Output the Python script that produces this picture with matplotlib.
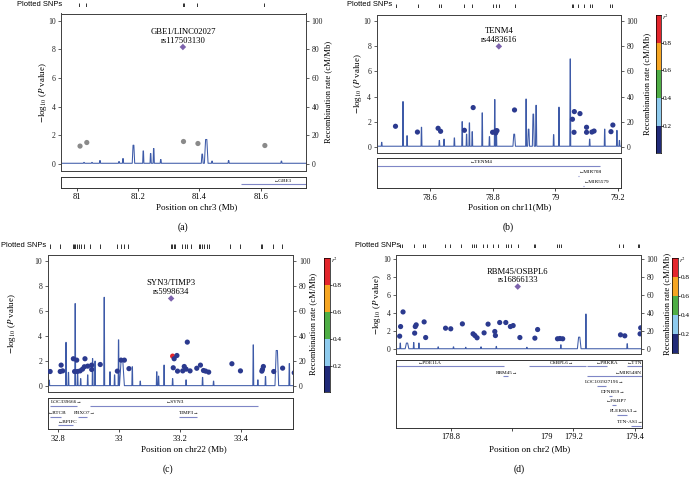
import matplotlib
matplotlib.use('Agg')
import matplotlib.pyplot as plt

plt.rcParams['font.family'] = ['Liberation Serif', 'DejaVu Serif']
plt.rcParams['mathtext.fontset'] = 'stix'

W, H = 689, 483
fig = plt.figure(figsize=(6.89, 4.83), dpi=100)

def box(x0, y0, x1, y1):
    return [x0 / W, 1 - y1 / H, (x1 - x0) / W, (y1 - y0) / H]

NAVY = '#2b3a8f'
GRAY = '#8a8a8a'
RED = '#e4262c'
PURPLE = '#7d63ad'
RECCOL = '#3d5aa8'
GENECOL = '#7f86c6'

# ---------------- data: panel (a) chr3 ----------------
snp_pos_a = [81.011, 81.033, 81.348, 81.395, 81.613]
snp_logp_a = [1.24, 1.49, 1.56, 1.42, 1.28]
snp_col_a = ['gray'] * 5
lead_a = (81.346, 8.16)
lead_txt_a = ('GBE1/LINC02027', 'rs117503130')
plotted_a = [81.008, 81.029, 81.346, 81.348, 81.392, 81.61]
rec_pos_a = [81.024, 81.05, 81.076, 81.138, 81.151, 81.185, 81.217, 81.241, 81.251,
             81.274, 81.409, 81.422, 81.441, 81.495, 81.667]
rec_rate_a = [1, 1, 2.3, 1.6, 3.7, 13, 9, 7.2, 10.7, 3, 6.8, 17, 1.9, 2.3, 1.9]
rec_w_a = [0.002, 0.002, 0.002, 0.002, 0.002, 0.004, 0.002, 0.002, 0.002,
           0.002, 0.003, 0.006, 0.002, 0.002, 0.002]
genes_a = [('GBE1', 81.534, 81.80, '-')]
gene_lab_a = [81.642]
gene_row_a = [0]

# ---------------- data: panel (b) chr11 ----------------
snp_pos_b = [78.49, 78.56, 78.626, 78.634, 78.71, 78.738, 78.80, 78.81, 78.814, 78.81,
             78.87, 79.055, 79.061, 79.079, 79.06, 79.10, 79.10, 79.117, 79.124, 79.178, 79.184]
snp_logp_b = [1.63, 1.17, 1.47, 1.23, 1.31, 3.12, 1.15, 1.25, 1.28, 1.1,
              2.93, 2.19, 2.8, 2.64, 1.15, 1.55, 1.15, 1.17, 1.25, 1.2, 1.73]
snp_col_b = ['navy'] * len(snp_pos_b)
lead_b = (78.82, 8.0)
lead_txt_b = ('TENM4', 'rs4483616')
plotted_b = [78.491, 78.563, 78.630, 78.636, 78.708, 78.735, 78.800, 78.810, 78.821,
             78.872, 79.053, 79.057, 79.074, 79.093, 79.112, 79.117, 79.175, 79.180]
rec_pos_b = [78.446, 78.514, 78.527, 78.573, 78.63, 78.645, 78.678, 78.703, 78.717, 78.726,
             78.735, 78.767, 78.79, 78.807, 78.812, 78.869, 78.907, 78.915, 78.93, 78.939,
             78.995, 79.012, 79.048, 79.11, 79.158, 79.197, 79.205]
rec_rate_b = [3.5, 36, 8.8, 15.5, 5, 6, 7, 20, 10, 19, 12, 27, 8, 37.6, 14, 10, 38, 14,
              26, 33, 9.6, 31.5, 70, 6, 14, 13, 5]
rec_w_b = [0.0015] * 15 + [0.004, 0.0015, 0.003, 0.003, 0.002] + [0.0015] * 7
genes_b = [('TENM4', 78.2, 79.143, '-'), ('MIR708', 79.074, 79.0745, '-'),
           ('MIR5579', 79.09, 79.0905, '-')]
gene_lab_b = [78.728, 79.074, 79.09]
gene_row_b = [0, 1, 2]

# ---------------- data: panel (c) chr22 ----------------
snp_pos_c = [32.775, 32.808, 32.811, 32.816, 32.851, 32.862, 32.855, 32.864, 32.873, 32.881,
             32.887, 32.889, 32.898, 32.911, 32.911, 32.939, 32.995, 33.007, 33.018, 33.033,
             33.176, 33.181, 33.19, 33.178, 33.192, 33.209, 33.214, 33.224, 33.22, 33.233,
             33.255, 33.267, 33.277, 33.284, 33.294, 33.37, 33.398, 33.468, 33.473, 33.47,
             33.507, 33.536, 33.574]
snp_logp_c = [1.17, 1.17, 1.68, 1.22, 2.19, 2.08, 1.17, 1.17, 1.22, 1.36,
              1.55, 2.19, 1.6, 1.68, 1.33, 1.73, 1.2, 2.08, 2.08, 1.4,
              2.4, 2.19, 2.45, 1.47, 1.2, 1.22, 1.57, 3.52, 1.36, 1.22,
              1.43, 1.68, 1.25, 1.2, 1.12, 1.79, 1.22, 1.2, 1.57, 1.33,
              1.17, 1.44, 1.07]
snp_col_c = ['navy'] * 20 + ['red'] + ['navy'] * 22
lead_c = (33.171, 7.01)
lead_txt_c = ('SYN3/TIMP3', 'rs5998634')
plotted_c = [32.773, 32.808, 32.849, 32.853, 32.858, 32.864, 32.871, 32.877, 32.886, 32.906,
             32.939, 32.993, 33.006, 33.017, 33.030, 33.171, 33.175, 33.180, 33.184, 33.208,
             33.215, 33.223, 33.236, 33.263, 33.267, 33.273, 33.280, 33.288, 33.295, 33.364,
             33.397, 33.464, 33.469, 33.504, 33.534, 33.570]
rec_pos_c = [32.772, 32.827, 32.835, 32.857, 32.865, 32.875, 32.898, 32.914, 32.922, 32.952,
             32.971, 32.986, 32.999, 33.01, 33.044, 33.07, 33.124, 33.13, 33.148, 33.176,
             33.22, 33.274, 33.31, 33.44, 33.455, 33.48, 33.517, 33.558]
rec_rate_c = [4.8, 35, 11, 66, 10, 6, 9, 22, 20, 71, 11.5, 9, 37, 21, 15.5, 4, 11.5, 8,
              16.8, 6, 5, 7, 4, 33, 5, 7.7, 28.5, 18]
rec_w_c = [0.0015] * 13 + [0.008] + [0.0015] * 12 + [0.006, 0.0015]
genes_c = [('LOC339666', 32.775, 32.862, '+'), ('SYN3', 32.906, 33.457, '-'),
           ('RTCB', 32.776, 32.809, '-'), ('FBXO7', 32.865, 32.895, '+'),
           ('TIMP3', 33.198, 33.255, '+'), ('BPIFC', 32.802, 32.851, '-')]
gene_lab_c = [32.776, 33.155, 32.769, 32.851, 33.198, 32.799]
gene_row_c = [0, 0, 1, 1, 1, 2]

# ---------------- data: panel (d) chr2 ----------------
snp_pos_d = [178.634, 178.637, 178.645, 178.683, 178.685, 178.688, 178.714, 178.719, 178.784,
             178.801, 178.839, 178.874, 178.88, 178.887, 178.91, 178.923, 178.945, 178.947,
             178.961, 178.981, 178.996, 179.005, 179.027, 179.076, 179.085, 179.15, 179.158,
             179.167, 179.356, 179.37, 179.42, 179.422]
snp_logp_d = [1.44, 2.51, 4.14, 1.78, 2.51, 2.7, 3.03, 1.29, 2.33, 2.26, 2.81, 1.7, 1.51,
              1.26, 1.81, 2.78, 1.96, 1.51, 2.96, 2.96, 2.51, 2.62, 1.29, 1.22, 2.18, 1.15,
              1.18, 1.15, 1.59, 1.48, 1.7, 2.37]
snp_col_d = ['navy'] * len(snp_pos_d)
lead_d = (179.02, 6.96)
lead_txt_d = ('RBM45/OSBPL6', 'rs16866133')
plotted_d = [178.634, 178.640, 178.681, 178.710, 178.716, 178.781, 178.799, 178.836, 178.871,
             178.876, 178.883, 178.907, 178.918, 178.940, 178.956, 178.980, 178.987, 178.997,
             179.021, 179.073, 179.078, 179.148, 179.154, 179.160, 179.352, 179.365, 179.414,
             179.416]
rec_pos_d = [178.636, 178.658, 178.68, 178.697, 178.76, 178.81, 178.85, 178.9, 178.95,
             179.05, 179.161, 179.221, 179.243, 179.378]
rec_rate_d = [6.7, 6.7, 7.3, 6.7, 2.5, 2.5, 2, 2.5, 3, 2, 4.8, 13.3, 39, 6]
rec_w_d = [0.0015, 0.006, 0.0015, 0.0015, 0.0015, 0.0015, 0.0015, 0.0015, 0.0015,
           0.0015, 0.0015, 0.006, 0.0015, 0.0015]
genes_d = [('PDE11A', 178.5, 178.975, '-'), ('OSBPL6', 179.057, 179.24, '+'),
           ('PRKRA', 179.245, 179.311, '-'), ('TTN', 179.376, 179.6, '-'),
           ('RBM45', 178.972, 178.988, '+'), ('MIR548N', 179.245, 179.6, '-'),
           ('LOC101927196', 179.278, 179.305, '+'), ('DFNB59', 179.316, 179.327, '+'),
           ('FKBP7', 179.327, 179.338, '-'), ('PLEKHA3', 179.343, 179.376, '+'),
           ('TTN-AS1', 179.389, 179.422, '+')]
gene_lab_d = [178.694, 179.123, 179.272, 179.376, 178.947, 179.335, 179.236, 179.289,
              179.305, 179.319, 179.343]
gene_row_d = [0, 0, 0, 0, 1, 1, 2, 3, 4, 5, 6]

r2_bounds = [0.0, 0.2, 0.4, 0.6, 0.8, 1.0]
r2_colors = ['#202a78', '#8ecbee', '#4fae45', '#f6a623', '#e4262c']
colmap = {'navy': NAVY, 'gray': GRAY, 'red': RED}


def spike_line(pos, rate, width, xlim, base=0.4):
    xs, ys = [xlim[0]], [base]
    for c, h, w in sorted(zip(pos, rate, width)):
        xs += [c - w, c - w / 3, c + w / 3, c + w]
        ys += [base, h, h, base]
    xs.append(xlim[1]); ys.append(base)
    return xs, ys


def panel(main_px, gene_px, row_px, xlim, xticks, xticklabels, pts_x, pts_y, pts_c,
          lead, lead_txt, plotted, rec, genes, gene_lab, gene_row, row_lines,
          xlabel, xlabel_px, plabel, plabel_px, ylab_x, rlab_x, snptxt_px, cbar_px=None,
          extra_tick=None):
    ax = fig.add_axes(box(*main_px))
    ax2 = ax.twinx()
    ax.set_zorder(ax2.get_zorder() + 1)
    ax.patch.set_visible(False)
    ax.set_xlim(xlim); ax2.set_xlim(xlim)
    ax.set_ylim(-0.5, 10.5); ax2.set_ylim(-5, 105)
    ax.set_yticks([0, 2, 4, 6, 8, 10]); ax2.set_yticks([0, 20, 40, 60, 80, 100])
    ax.set_xticks([])
    for a in (ax, ax2):
        a.tick_params(axis='y', labelsize=5.6, length=2.5, width=0.5, pad=1.5, colors='#222222')
        for s in a.spines.values():
            s.set_linewidth(0.7); s.set_color('#444444')
    rx, ry = spike_line(*rec, xlim)
    ax2.plot(rx, ry, color=RECCOL, lw=0.75)
    ax.scatter(pts_x, pts_y, s=14, c=[colmap[c] for c in pts_c], edgecolors='none', zorder=3)
    ax.scatter([lead[0]], [lead[1]], marker='D', s=11, c=PURPLE, edgecolors='none', zorder=4)
    ax.annotate(lead_txt[1], (lead[0], lead[1]), xytext=(0, 4.4), textcoords='offset points',
                ha='center', va='center', fontsize=6.2)
    ax.annotate(lead_txt[0], (lead[0], lead[1]), xytext=(0, 10.8), textcoords='offset points',
                ha='center', va='center', fontsize=6.2)

    # plotted SNPs row
    sx = fig.add_axes(box(main_px[0], row_px[0], main_px[2], row_px[1]))
    sx.set_xlim(xlim); sx.set_ylim(0, 1); sx.axis('off')
    sx.vlines(plotted, 0, 1, color='#111111', lw=0.6)
    fig.text(snptxt_px[0] / W, 1 - snptxt_px[1] / H, 'Plotted SNPs', fontsize=5.4,
             family=['Liberation Sans', 'DejaVu Sans'], va='center', ha='left')

    # gene track
    gx = fig.add_axes(box(*gene_px))
    gx.set_xlim(xlim); gx.set_ylim(gene_px[3], gene_px[1])
    gx.set_yticks([])
    gx.set_xticks(xticks); gx.set_xticklabels(xticklabels)
    gx.tick_params(axis='x', labelsize=6, length=2.5, width=0.5, pad=1.5)
    if extra_tick is not None:
        gx.set_xticks([extra_tick[0]], minor=True)
        gx.set_xticklabels([extra_tick[1]], minor=True)
        gx.tick_params(axis='x', which='minor', labelsize=6, length=0, pad=4.0)
    for s in gx.spines.values():
        s.set_linewidth(0.7); s.set_color('#333333')
    for (name, st, en, strand), lx, r in zip(genes, gene_lab, gene_row):
        ly = row_lines[r]
        gx.plot([st, en], [ly, ly], color=GENECOL, lw=0.8, solid_capstyle='butt')
        txt = ('\u2190' + name) if strand == '-' else (name + '\u2192')
        gx.text(lx, ly - 3.6, txt, fontsize=3.8, ha='left', va='center', clip_on=True)

    # labels
    fig.text(xlabel_px[0] / W, 1 - xlabel_px[1] / H, xlabel, fontsize=6.6, ha='center', va='center')
    fig.text(plabel_px[0] / W, 1 - plabel_px[1] / H, plabel, fontsize=7, ha='center', va='center')
    yc = 1 - (main_px[1] + main_px[3]) / 2 / H
    fig.text(ylab_x / W, yc, r'$-$log$_{10}$ ($P$ value)', fontsize=6.4, rotation=90,
             ha='center', va='center')
    fig.text(rlab_x / W, yc, 'Recombination rate (cM/Mb)', fontsize=6.2, rotation=90,
             ha='center', va='center')

    if cbar_px is not None:
        cx = fig.add_axes(box(*cbar_px))
        for lo, hi, col in zip(r2_bounds[:-1], r2_bounds[1:], r2_colors):
            cx.bar(0, hi - lo, bottom=lo, width=1, color=col, edgecolor='none')
        cx.set_xlim(-0.5, 0.5); cx.set_ylim(0, 1)
        cx.set_xticks([])
        cx.yaxis.tick_right()
        cx.set_yticks([0.2, 0.4, 0.6, 0.8])
        cx.set_yticklabels(['0.2', '0.4', '0.6', '0.8'])
        cx.tick_params(axis='y', labelsize=5.2, length=1.2, width=0.5, pad=0.6)
        for s in cx.spines.values():
            s.set_linewidth(0.5)
        fig.text((cbar_px[2] + 0.8) / W, 1 - (cbar_px[1] + 2) / H, r'$r^2$', fontsize=4.8,
                 ha='left', va='center')


panel((61, 13.5, 306, 171), (61, 176.7, 306, 187.7), (2.7, 6.7), (80.949, 81.747),
      [81, 81.2, 81.4, 81.6], ['81', '81.2', '81.4', '81.6'],
      snp_pos_a, snp_logp_a, snp_col_a, lead_a, lead_txt_a, plotted_a,
      (rec_pos_a, rec_rate_a, rec_w_a), genes_a, gene_lab_a, gene_row_a, [184.3],
      'Position on chr3 (Mb)', (196.7, 207.5), '(a)', (183, 227.5), 42.7, 328.3, (16.7, 4.7))

panel((376.7, 15, 621, 153), (376.7, 157.7, 621, 188.3), (3.5, 8), (78.43, 79.21),
      [78.6, 78.8, 79, 79.2], ['78.6', '78.8', '79', '79.2'],
      snp_pos_b, snp_logp_b, snp_col_b, lead_b, lead_txt_b, plotted_b,
      (rec_pos_b, rec_rate_b, rec_w_b), genes_b, gene_lab_b, gene_row_b, [166, 176, 185.8],
      'Position on chr11(Mb)', (510, 207.5), '(b)', (508.3, 227.5), 358.3, 646.7, (346.7, 5),
      cbar_px=(656, 15, 660.7, 153.3))

panel((47.7, 254.8, 293.3, 392.4), (47.7, 398.3, 293.3, 429.3), (244, 249), (32.767, 33.571),
      [32.8, 33, 33.2, 33.4], ['32.8', '33', '33.2', '33.4'],
      snp_pos_c, snp_logp_c, snp_col_c, lead_c, lead_txt_c, plotted_c,
      (rec_pos_c, rec_rate_c, rec_w_c), genes_c, gene_lab_c, gene_row_c, [405.7, 416.5, 425.2],
      'Position on chr22 (Mb)', (184.3, 449.5), '(c)', (167.7, 469.5), 12, 313.3, (1, 245),
      cbar_px=(324, 258, 330, 392.4))

panel((396, 254.8, 641, 353.6), (396, 360, 641.7, 427.7), (243.5, 248), (178.622, 179.423),
      [178.8, 179.0, 179.2, 179.4], ['178.8', '', '179.2', '179.4'],
      snp_pos_d, snp_logp_d, snp_col_d, lead_d, lead_txt_d, plotted_d,
      (rec_pos_d, rec_rate_d, rec_w_d), genes_d, gene_lab_d, gene_row_d,
      [366.3, 376.3, 385.8, 396, 405, 415, 425.8],
      'Position on chr2 (Mb)', (530, 449.5), '(d)', (519.3, 469.5), 376.7, 667, (355, 245),
      cbar_px=(672, 258, 678.3, 353), extra_tick=(179.114, '179'))

fig.savefig('out.png', dpi=100)
